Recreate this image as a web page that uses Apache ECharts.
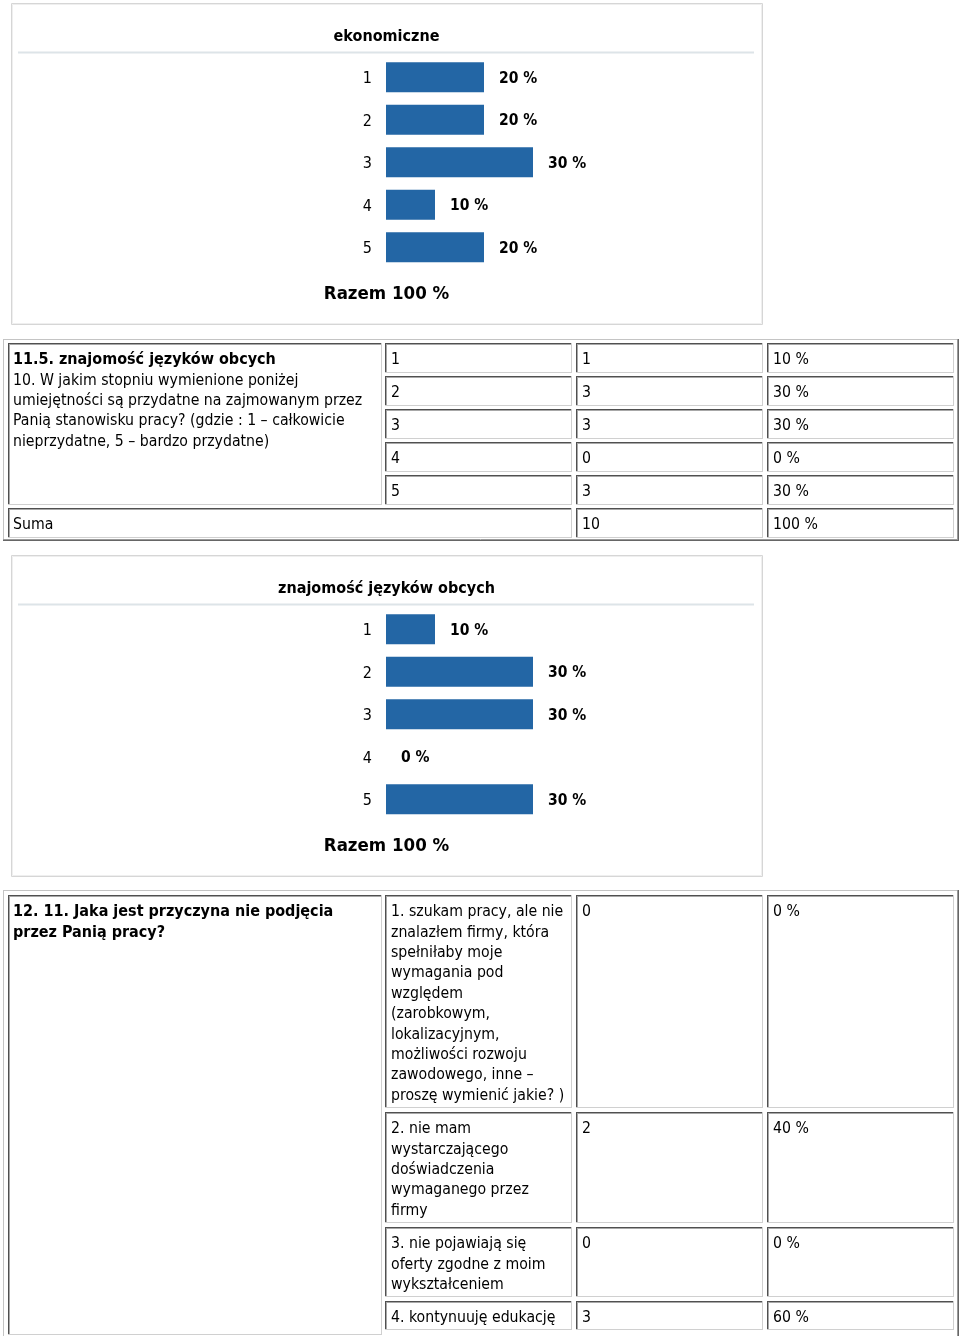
<!DOCTYPE html>
<html>
<head>
<meta charset="utf-8">
<script src="https://cdn.jsdelivr.net/npm/echarts@6/dist/echarts.min.js"></script>
<style>
html,body{margin:0;padding:0;background:#fff;}
#main{width:960px;height:1336px;}
</style>
</head>
<body>
<div id="main"></div>
<script>
// ---- data ----
const econTitle = 'ekonomiczne';
const econCategories = ['1', '2', '3', '4', '5'];
const econPercents = [20, 20, 30, 10, 20];
const econTotal = 'Razem 100 %';

const langQuestionTitle = '11.5. znajomość języków obcych';
const langQuestionText = '10. W jakim stopniu wymienione poniżej\numiejętności są przydatne na zajmowanym przez\nPanią stanowisku pracy? (gdzie : 1 – całkowicie\nnieprzydatne, 5 – bardzo przydatne)';
const langCategories = ['1', '2', '3', '4', '5'];
const langCounts = [1, 3, 3, 0, 3];
const langPercents = [10, 30, 30, 0, 30];
const langSumLabel = 'Suma';
const langSumCount = 10;
const langSumPercent = 100;
const langTitle = 'znajomość języków obcych';
const langTotal = 'Razem 100 %';

const reasonQuestion = '12. 11. Jaka jest przyczyna nie podjęcia\nprzez Panią pracy?';
const reasonLabels = [
  '1. szukam pracy, ale nie\nznalazłem firmy, która\nspełniłaby moje\nwymagania pod\nwzględem\n(zarobkowym,\nlokalizacyjnym,\nmożliwości rozwoju\nzawodowego, inne –\nproszę wymienić jakie? )',
  '2. nie mam\nwystarczającego\ndoświadczenia\nwymaganego przez\nfirmy',
  '3. nie pojawiają się\noferty zgodne z moim\nwykształceniem',
  '4. kontynuuję edukację'
];
const reasonCounts = [0, 2, 0, 3];
const reasonPercents = [0, 40, 0, 60];

// ---- style ----
const FONT = "'DejaVu Sans Condensed', 'DejaVu Sans', sans-serif";
const FS = 15.7;
const LH = 20.4;
const BAR = '#2366a5';
const DARK = '#505050';
const DARK2 = '#a8a8a8';
const LIGHT = '#d0d0d0';

const chart = echarts.init(document.getElementById('main'), null, {renderer: 'canvas', width: 960, height: 1336});
const g = [];

function line(x1, y1, x2, y2, color, w) {
  g.push({type: 'line', silent: true, shape: {x1, y1, x2, y2}, style: {stroke: color, lineWidth: w || 1}});
}
function inset(x, y, w, h) {
  line(x, y + 0.5, x + w, y + 0.5, DARK);
  line(x + 0.5, y, x + 0.5, y + h, DARK);
  line(x + 1, y + 1.5, x + w - 1, y + 1.5, DARK2);
  line(x + 1.5, y + 1, x + 1.5, y + h - 1, DARK2);
  line(x, y + h - 0.5, x + w, y + h - 0.5, LIGHT);
  line(x + w - 0.5, y, x + w - 0.5, y + h, LIGHT);
}
function outset(x, y, w, h) {
  line(x, y + 0.5, x + w, y + 0.5, '#c4c4c4');
  line(x + 0.5, y, x + 0.5, y + h, '#c4c4c4');
  line(x, y + h - 0.5, x + w, y + h - 0.5, '#666');
  line(x + w - 0.5, y, x + w - 0.5, y + h, '#666');
  line(x, y + h - 1.5, x + w - 1, y + h - 1.5, '#9a9a9a');
  line(x + w - 1.5, y, x + w - 1.5, y + h - 1, '#9a9a9a');
}
function text(t, x, y, opts) {
  opts = opts || {};
  g.push({type: 'text', silent: true, x: x, y: y, style: {
    text: t, fill: '#000', fontFamily: FONT, fontSize: opts.size || FS,
    fontWeight: opts.bold ? 'bold' : 'normal', align: opts.align || 'left',
    verticalAlign: opts.va || 'top', lineHeight: LH
  }});
}
function panel(y0, title, total) {
  g.push({type: 'rect', silent: true, shape: {x: 11.5, y: y0 + 0.5, width: 751, height: 321},
    style: {fill: 'none', stroke: '#d6d6d6', lineWidth: 1}});
  g.push({type: 'rect', silent: true, shape: {x: 12.5, y: y0 + 1.5, width: 749, height: 319},
    style: {fill: 'none', stroke: '#efefef', lineWidth: 1}});
  line(18, y0 + 49.5, 754, y0 + 49.5, '#dde4e8', 2);
  text(title, 386.5, y0 + 34, {bold: true, size: 16, align: 'center', va: 'middle'});
  text(total, 386.5, y0 + 291, {bold: true, size: 18.5, align: 'center', va: 'middle'});
}

// panels around charts
panel(3, econTitle, econTotal);
panel(555, langTitle, langTotal);

const TY = 7; // text offset inside a cell
// table 1 (11.5)
const colX = [385, 576, 767];
const colW = [187, 187, 187];
outset(3, 339, 956, 202);
inset(8, 343, 374, 162);
text(langQuestionTitle, 13, 343 + TY, {bold: true, size: 16});
text(langQuestionText, 13, 343 + TY + LH);
for (let i = 0; i < langCategories.length; i++) {
  const y = 343 + i * 33;
  const vals = [langCategories[i], String(langCounts[i]), langPercents[i] + ' %'];
  for (let c = 0; c < 3; c++) {
    inset(colX[c], y, colW[c], 30);
    text(vals[c], colX[c] + 6, y + TY);
  }
}
inset(8, 508, 564, 30);
text(langSumLabel, 13, 508 + TY);
inset(colX[1], 508, colW[1], 30);
text(String(langSumCount), colX[1] + 6, 508 + TY);
inset(colX[2], 508, colW[2], 30);
text(langSumPercent + ' %', colX[2] + 6, 508 + TY);

// table 2 (12.)
outset(3, 890, 956, 450);
inset(8, 895, 374, 440);
text(reasonQuestion, 13, 895 + TY, {bold: true, size: 16});
let ry = 895;
for (let i = 0; i < reasonLabels.length; i++) {
  const n = reasonLabels[i].split('\n').length;
  const h = Math.round(n * LH + 9);
  const vals = [reasonLabels[i], String(reasonCounts[i]), reasonPercents[i] + ' %'];
  for (let c = 0; c < 3; c++) {
    inset(colX[c], ry, colW[c], h);
    text(vals[c], colX[c] + 6, ry + TY);
  }
  ry += h + 4;
}

function barSeries(idx, data) {
  return {
    type: 'bar', xAxisIndex: idx, yAxisIndex: idx, data: data, barWidth: 30,
    itemStyle: {color: BAR},
    label: {show: true, position: 'right', distance: 15, formatter: '{v|{c} %}',
      rich: {v: {fontFamily: FONT, fontWeight: 'bold', fontSize: 15.5, color: '#000', padding: [3, 0, 0, 0]}}},
    silent: true, animation: false
  };
}
function yAx(idx, cats) {
  return {type: 'category', gridIndex: idx, data: cats, inverse: true,
    axisLine: {show: false}, axisTick: {show: false}, splitLine: {show: false},
    axisLabel: {margin: 14, formatter: '{v|{value}}',
      rich: {v: {color: '#000', fontFamily: FONT, fontSize: 16, padding: [4, 0, 0, 0]}}}};
}
function xAx(idx) {
  return {type: 'value', gridIndex: idx, min: 0, max: 100, show: false};
}

chart.setOption({
  animation: false,
  grid: [
    {left: 386, top: 56, width: 490, height: 212.5},
    {left: 386, top: 608, width: 490, height: 212.5}
  ],
  xAxis: [xAx(0), xAx(1)],
  yAxis: [yAx(0, econCategories), yAx(1, langCategories)],
  series: [barSeries(0, econPercents), barSeries(1, langPercents)],
  graphic: g
});
</script>
</body>
</html>
